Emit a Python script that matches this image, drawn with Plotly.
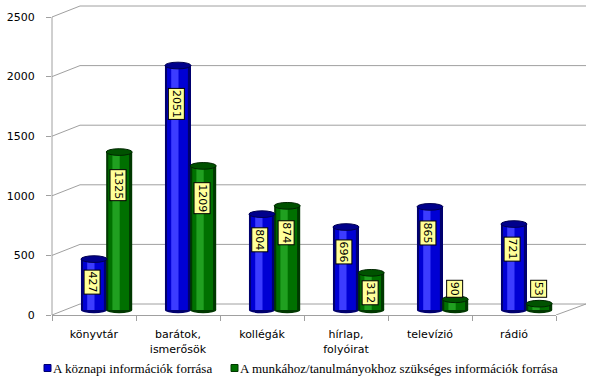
import plotly.graph_objects as go

# ---------------- data ----------------
categories = ["könyvtár", "barátok,<br>ismerősök", "kollégák", "hírlap,<br>folyóirat", "televízió", "rádió"]
daily_values = [427, 2051, 804, 696, 865, 721]
work_values = [1325, 1209, 874, 312, 90, 53]
series_names = ["A köznapi információk forrása",
                "A munkához/tanulmányokhoz szükséges információk forrása"]
y_ticks = [0, 500, 1000, 1500, 2000, 2500]

# ---------------- geometry helpers (pixel -> paper) ----------------
W, H = 606, 379
def px(x):
    return x / W
def py(y):
    return 1 - y / H

K = 298 / 2500.0            # px per unit
FRONT_ZERO, FRONT_TOP = 315, 315 - 2600 * K
Y_DOMAIN = [py(FRONT_ZERO), py(FRONT_TOP)]
BAR_SHIFT = 5 / K           # bars sit 5 px behind front edge
BACK_SHIFT = 11 / K         # back wall 11 px behind front edge

GRID = "#a0a0a0"
FONT = "DejaVu Sans"

idx = list(range(len(categories)))

styles = [
    dict(offset=-0.31, width=0.31, dark="#00006e", main="#0000d4", hi="#3c3cff",
         cap="#00008c", capline="#000050", label_shift=-2),
    dict(offset=-0.01, width=0.31, dark="#003800", main="#007000", hi="#20a020",
         cap="#005200", capline="#002600", label_shift=-1),
]

fig = go.Figure()
shapes = []
annotations = []

for vals, st, name in zip([daily_values, work_values], styles, series_names):
    layers = [(0.0, 1.0, st["dark"]), (0.08, 0.80, st["main"]), (0.24, 0.28, st["hi"])]
    for fs, fw, col in layers:
        fig.add_trace(go.Bar(
            x=idx, y=vals, xaxis="x2", yaxis="y2",
            offset=st["offset"] + fs * st["width"], width=fw * st["width"],
            marker=dict(color=col, line=dict(width=0)),
            name=name, showlegend=False, hoverinfo="y",
        ))
    for i, v in zip(idx, vals):
        x0 = i + st["offset"]
        x1 = x0 + st["width"]
        # bottom ellipse
        shapes.append(dict(type="circle", xref="x2", yref="y2", x0=x0, x1=x1,
                           y0=-28, y1=28, fillcolor=st["dark"], line=dict(width=0),
                           layer="below"))
        # top cap
        shapes.append(dict(type="circle", xref="x2", yref="y2", x0=x0, x1=x1,
                           y0=v - 28, y1=v + 28, fillcolor=st["cap"],
                           line=dict(color=st["capline"], width=1), layer="above"))
        # value label (placed just inside the top end of the bar)
        label_len_px = 7 * len(str(v)) + 4
        top_units = max(v - (8 + 0.007 * v) / K, 252)
        center_units = top_units - (label_len_px / 2) / K
        annotations.append(dict(
            x=(x0 + x1) / 2, y=center_units, xref="x2", yref="y2",
            xanchor="center", yanchor="middle", xshift=st["label_shift"],
            text=str(v), textangle=90, showarrow=False,
            font=dict(family=FONT, size=11, color="black"),
            bgcolor="#ffff99", bordercolor="black", borderwidth=1, borderpad=1,
        ))

# back wall gridlines + slanted side lines
for v in y_ticks:
    shapes.append(dict(type="line", xref="paper", yref="y", x0=px(80), x1=px(586),
                       y0=v + BACK_SHIFT, y1=v + BACK_SHIFT,
                       line=dict(color=GRID, width=1), layer="below"))
    shapes.append(dict(type="line", xref="paper", yref="y", x0=px(52), x1=px(80),
                       y0=v, y1=v + BACK_SHIFT,
                       line=dict(color=GRID, width=1), layer="below"))
# right floor slant
shapes.append(dict(type="line", xref="paper", yref="y", x0=px(556), x1=px(586),
                   y0=0, y1=BACK_SHIFT, line=dict(color=GRID, width=1), layer="below"))
# front vertical axis line
shapes.append(dict(type="line", xref="paper", yref="y", x0=px(52), x1=px(52),
                   y0=0, y1=y_ticks[-1], line=dict(color=GRID, width=1), layer="below"))

# manual legend
legend_items = [(44, 51, styles[0]), (231, 238, styles[1])]
for (sq_x, tx, st), name in zip(legend_items, series_names):
    shapes.append(dict(type="rect", xref="paper", yref="paper",
                       x0=px(sq_x), x1=px(sq_x + 7), y0=py(371.5), y1=py(364.5),
                       fillcolor=st["main"], line=dict(color=st["dark"], width=1)))
    annotations.append(dict(x=px(tx), y=py(368), xref="paper", yref="paper",
                            xanchor="left", yanchor="middle", text=name, showarrow=False,
                            font=dict(family="Liberation Serif", size=13, color="black")))

fig.update_layout(
    width=W, height=H, autosize=False,
    margin=dict(l=0, r=0, t=0, b=0, autoexpand=False),
    paper_bgcolor="white", plot_bgcolor="rgba(0,0,0,0)",
    barmode="overlay", showlegend=False,
    xaxis=dict(type="category", categoryarray=categories, categoryorder="array",
               range=[-0.5, len(categories) - 0.5], automargin=False,
               domain=[px(52), px(556)], anchor="y",
               showline=True, linecolor=GRID, linewidth=1,
               ticks="outside", ticklen=5, tickcolor=GRID, tickson="boundaries",
               ticklabelstandoff=9,
               showgrid=False, zeroline=False,
               tickfont=dict(family=FONT, size=11, color="black"),
               fixedrange=True),
    yaxis=dict(range=[0, 2600], domain=Y_DOMAIN, anchor="x", automargin=False,
               tickvals=y_ticks, ticktext=[str(t) for t in y_ticks],
               showline=False, showgrid=False, zeroline=False,
               ticks="outside", ticklen=5, tickcolor=GRID,
               ticklabelstandoff=9,
               tickfont=dict(family=FONT, size=11, color="black"),
               fixedrange=True),
    xaxis2=dict(range=[-0.5, len(categories) - 0.5], domain=[px(65), px(569)],
                anchor="y2", visible=False, fixedrange=True, automargin=False),
    yaxis2=dict(range=[-BAR_SHIFT, 2600 - BAR_SHIFT], domain=Y_DOMAIN,
                anchor="x2", visible=False, fixedrange=True, automargin=False),
    shapes=shapes,
    annotations=annotations,
)

fig.write_html("out.html", post_script="document.body.style.margin='0';",
               config={"displayModeBar": False})
